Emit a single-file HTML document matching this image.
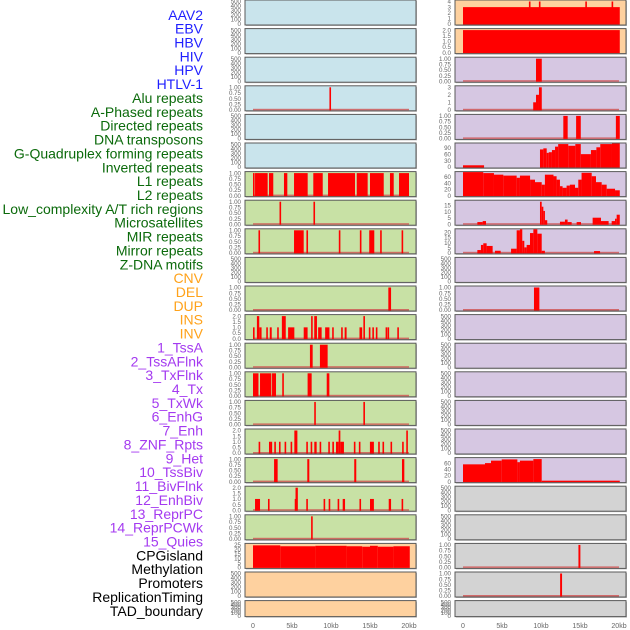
<!DOCTYPE html>
<html><head><meta charset="utf-8"><style>
body{margin:0;background:#fff;width:630px;height:630px;overflow:hidden}
svg{display:block;font-family:"Liberation Sans",sans-serif}
</style></head><body>
<svg id="c" width="630" height="630" viewBox="0 0 630 630"></svg>
<script>
// ===== data (kb intervals) =====
const xTicksKb=[0,5,10,15,20];
const xTickLabels=["0","5kb","10kb","15kb","20kb"];
const trackLabels=["AAV2","EBV","HBV","HIV","HPV","HTLV-1","Alu repeats","A-Phased repeats","Directed repeats","DNA transposons","G-Quadruplex forming repeats","Inverted repeats","L1 repeats","L2 repeats","Low_complexity A/T rich regions","Microsatellites","MIR repeats","Mirror repeats","Z-DNA motifs","CNV","DEL","DUP","INS","INV","1_TssA","2_TssAFlnk","3_TxFlnk","4_Tx","5_TxWk","6_EnhG","7_Enh","8_ZNF_Rpts","9_Het","10_TssBiv","11_BivFlnk","12_EnhBiv","13_ReprPC","14_ReprPCWk","15_Quies","CPGisland","Methylation","Promoters","ReplicationTiming","TAD_boundary"];
const labelGroups=[6,13,5,15,5];
// left column
const left3=[[9.8,10.0]];
const left6=[[0,0.1],[0.26,1.88],[2.05,2.6],[3.97,4.4],[5.26,7.01],[7.73,8.94],[9.62,13.08],[13.3,14.7],[15.0,16.76],[17.56,18.04],[18.72,20.0]];
const left7=[[3.4,3.55],[7.75,7.9]];
const left8=[[0.7,0.85],[5.26,6.5],[6.85,7.0],[11.0,11.15],[13.7,13.85],[14.9,15.55],[16.3,16.45],[19.05,19.2]];
const left10=[[17.35,17.7]];
const left11=[[0,0.15,1],[0.5,0.8,2],[0.8,1.1,1],[1.7,1.85,1],[2.15,2.4,1],[3.1,3.2,1],[3.7,4.2,2],[4.5,5.3,1],[6.5,7.0,1],[7.45,7.65,2],[7.85,8.2,2],[8.35,8.8,1],[9.25,9.8,1],[10.15,10.3,1],[11.3,11.45,1],[11.75,12.0,1],[13.65,14.0,1],[14.15,14.35,2],[14.85,15.0,1],[15.3,15.4,1],[15.75,15.85,1],[17.0,17.1,1],[17.25,17.35,1],[18.5,18.6,1]];
const left12=[[7.3,7.65],[8.58,9.57]];
const left13=[[0,0.7],[0.9,2.35],[2.44,2.95],[3.75,3.9],[7.0,7.52],[9.45,9.79]];
const left14=[[7.85,8.0],[14.15,14.3]];
const left15=[[0.72,0.82,1],[2.05,2.15,1],[2.25,2.35,1],[2.73,2.83,1],[3.33,3.43,1],[4.05,4.15,1],[4.82,4.92,1],[5.3,5.69,2],[6.83,6.93,1],[7.39,7.49,1],[7.86,8.16,1],[8.54,8.64,1],[9.65,9.75,1],[10.17,10.38,1],[10.64,10.98,1],[10.98,11.2,2],[11.2,11.66,1],[12.93,13.03,1],[13.57,13.67,1],[14.99,15.5,1],[16.05,16.15,1],[16.6,16.7,1],[17.63,17.73,1],[19.12,19.22,1],[19.65,19.8,2]];
const left16=[[2.7,3.16],[6.96,7.22],[12.98,13.24],[19.1,19.4]];
const left17=[[0.26,0.9,1],[1.92,2.02,1],[5.35,5.45,1],[5.45,5.75,2],[6.83,6.93,1],[9.05,9.15,1],[9.7,9.9,1],[10.85,11.0,1],[11.5,11.8,1],[13.65,13.75,1],[15.0,15.5,1],[17.4,17.7,1],[19.05,19.15,1]];
const left18=[[7.45,7.6]];
const left19=[[0,3.5,24.5],[3.5,8.0,23.5],[8.0,12.0,24],[12.0,14.0,23.5],[14.0,15.0,23],[15.0,16.0,24],[16.0,18.0,23],[18.0,20.1,23.5]];
// right column
const right0=[[0,20.1,3],[8.45,8.55,4],[9.73,9.83,4],[15.68,15.78,4],[19.05,19.15,4]];
const right1=[[0,20.1,2]];
const right2=[[9.36,10.1]];
const right3=[[9.0,9.36,1],[9.36,9.74,2],[9.74,10.1,3]];
const right4=[[12.86,13.42],[14.5,15.1],[19.6,20.1]];
const right5=[[0,2.7,8],[9.87,10.3,82],[10.3,10.73,87],[10.73,11.0,66],[11.0,11.4,69],[11.4,11.8,79],[11.8,12.2,95],[12.2,13.5,107],[13.5,14.4,99],[14.4,15.1,107],[15.1,16.4,60],[16.4,17.1,79],[17.1,17.6,92],[17.6,19.1,107],[19.1,20.1,110]];
const right6=[[0,2.6,76],[2.6,3.97,72],[3.97,5.17,67],[5.17,6.88,64],[6.88,7.3,57],[7.3,8.6,64],[8.6,9.23,51],[9.23,10.09,43],[10.09,10.5,35],[10.5,11.6,67],[11.6,12.0,62],[12.0,12.43,51],[12.43,12.77,30],[12.77,13.28,25],[13.28,13.7,32],[13.7,14.36,35],[14.36,14.78,25],[14.78,15.2,51],[15.2,16.5,73],[16.5,17.05,62],[17.05,17.78,43],[17.78,18.42,35],[18.42,19.49,22],[19.49,20.1,17]];
const right7=[[1.84,2.52,1.7],[2.52,2.95,2.5],[9.87,10.09,18],[10.09,10.3,14],[10.3,10.5,10.6],[10.5,10.8,3.2],[12.43,13.07,2],[13.07,13.41,3.7],[13.41,13.93,1.7],[14.57,15.13,1.7],[16.62,17.69,5.2],[17.69,18.67,2.5],[19.06,19.49,2.5],[19.49,19.7,4.4],[19.7,20.1,7.6]];
const right8=[[1.84,2.3,2.7],[2.3,2.6,7.7],[2.6,3.03,9.3],[3.03,3.8,6.7],[4.1,4.83,2],[6.16,6.88,4],[6.88,7.3,22],[7.3,7.6,23],[7.6,7.86,11.7],[7.86,8.16,5.3],[8.16,8.59,7.7],[8.59,9.02,19.3],[9.02,9.53,23],[9.53,10.09,18.7],[10.09,10.5,2],[16.8,17.57,1.7]];
const right10=[[9.1,9.79]];
const right16=[[0,2.82,56],[2.82,3.59,60],[3.59,4.96,68],[4.96,6.97,72],[6.97,7.3,63],[7.3,9.02,68],[9.02,10.09,73],[10.09,20.1,3]];
const right19=[[14.8,15.05]];
const right20=[[12.45,12.7]];

// ===== layout config =====
const BLUE="#c9e4ec",GREEN="#c8e1a5",PEACH="#fed19f",PURP="#d6c7e2",GRAY="#d3d3d3";
const EMPTY={ymax:500,ticks:[0,100,200,300,400,500],lab:["0","100","200","300","400","500"]};
const BIN={ymax:1,ticks:[0,0.25,0.5,0.75,1],lab:["0.00","0.25","0.50","0.75","1.00"]};
const TWO={ymax:2,ticks:[0,0.5,1,1.5,2],lab:["0.0","0.5","1.0","1.5","2.0"]};
const leftPanels=[
 [BLUE,EMPTY,null,0],[BLUE,EMPTY,null,0],[BLUE,EMPTY,null,0],[BLUE,BIN,left3,1],[BLUE,EMPTY,null,0],[BLUE,EMPTY,null,0],
 [GREEN,BIN,left6,1],[GREEN,BIN,left7,1],[GREEN,BIN,left8,1],[GREEN,EMPTY,null,0],[GREEN,BIN,left10,1],
 [GREEN,TWO,left11,2],[GREEN,BIN,left12,1],[GREEN,BIN,left13,1],[GREEN,BIN,left14,1],[GREEN,TWO,left15,2],
 [GREEN,BIN,left16,1],[GREEN,TWO,left17,2],[GREEN,BIN,left18,1],
 [PEACH,{ymax:25,ticks:[0,5,10,15,20,25],lab:["0","5","10","15","20","25"]},left19,3],[PEACH,EMPTY,null,0],[PEACH,EMPTY,null,0]];
const rightPanels=[
 [PEACH,{ymax:4,ticks:[0,1,2,3,4],lab:["0","1","2","3","4"]},right0,3],[PEACH,TWO,right1,3],
 [PURP,BIN,right2,1],[PURP,{ymax:3,ticks:[0,1,2,3],lab:["0","1","2","3"]},right3,2],[PURP,BIN,right4,1],
 [PURP,{ymax:105,ticks:[0,30,60,90],lab:["0","30","60","90"]},right5,3],
 [PURP,{ymax:72,ticks:[0,20,40,60],lab:["0","20","40","60"]},right6,3],
 [PURP,{ymax:18,ticks:[0,5,10,15],lab:["0","5","10","15"]},right7,2],
 [PURP,{ymax:22,ticks:[0,5,10,15,20],lab:["0","5","10","15","20"]},right8,2],
 [PURP,EMPTY,null,0],[PURP,BIN,right10,1],[PURP,EMPTY,null,0],[PURP,EMPTY,null,0],[PURP,EMPTY,null,0],[PURP,EMPTY,null,0],[PURP,EMPTY,null,0],
 [PURP,{ymax:73,ticks:[0,20,40,60],lab:["0","20","40","60"]},right16,3],
 [GRAY,EMPTY,null,0],[GRAY,EMPTY,null,0],[GRAY,BIN,right19,1],[GRAY,BIN,right20,1],[GRAY,EMPTY,null,0]];

const svg=document.getElementById('c');
const NS="http://www.w3.org/2000/svg";
function mk(tag,attrs,parent){const e=document.createElementNS(NS,tag);for(const k in attrs)e.setAttribute(k,attrs[k]);(parent||svg).appendChild(e);return e;}

// labels
const groupColors=["#1f1fff","#0b6a0b","#ffa21a","#a43af0","#000000"];
const labelNames=["virus-label","repeat-label","sv-label","chromhmm-label","feature-label"];
let li=0;
labelGroups.forEach((n,g)=>{for(let k=0;k<n;k++){const t=mk('text',{x:203,y:19.8+li*13.86,'text-anchor':'end','font-size':14,fill:groupColors[g]});t.textContent=trackLabels[li];


li++;}});

function drawPanel(colX,row,p,side){
 const [bg,ax,data,kind]=p;
 const top=row*28.6, h=row===21?16:25, bot=top+h;
 const x0=colX, w=171;
 const kbX=kb=>colX+8+kb*7.8;
 const vY=v=>(bot-1)-(v/ax.ymax)*(h-2.5);
 const g=mk('g',{});
 
 
 mk('rect',{x:x0+1,y:top+1,width:w,height:h,fill:'#bbb'},g);
 mk('rect',{x:x0,y:top,width:w,height:h,fill:bg,stroke:'#5a5a5a','stroke-width':1},g);
 ax.ticks.forEach((tv,i)=>{const t=mk('text',{x:x0-4,y:vY(tv)+2.2,'text-anchor':'end','font-size':6.2,fill:'#666'},g);t.textContent=ax.lab[i];
  
  });
 if(!data)return;
 if(kind!==3){const b=mk('rect',{x:kbX(0),y:bot-2,width:kbX(20)-kbX(0),height:1.5,fill:'#d05050',opacity:0.8},g);
  
  }
 data.forEach(d=>{const s=d[0],e=d[1],v=kind===1?1:d[2];
  const xa=kbX(s),wd=Math.max(1.6,kbX(e)-xa),yy=Math.max(top+0.5,vY(v));
  const r=mk('rect',{x:xa,y:yy,width:wd,height:bot-0.5-yy,fill:'#ff0000'},g);
  
  });
}
leftPanels.forEach((p,i)=>drawPanel(245,i,p,'left'));
rightPanels.forEach((p,i)=>drawPanel(455,i,p,'right'));
// x axes
[245,455].forEach(cx=>{xTicksKb.forEach((kb,i)=>{const t=mk('text',{x:cx+8+kb*7.8,y:628,'text-anchor':'middle','font-size':7,fill:'#666'});t.textContent=xTickLabels[i];
 
 });});
</script>
</body></html>
